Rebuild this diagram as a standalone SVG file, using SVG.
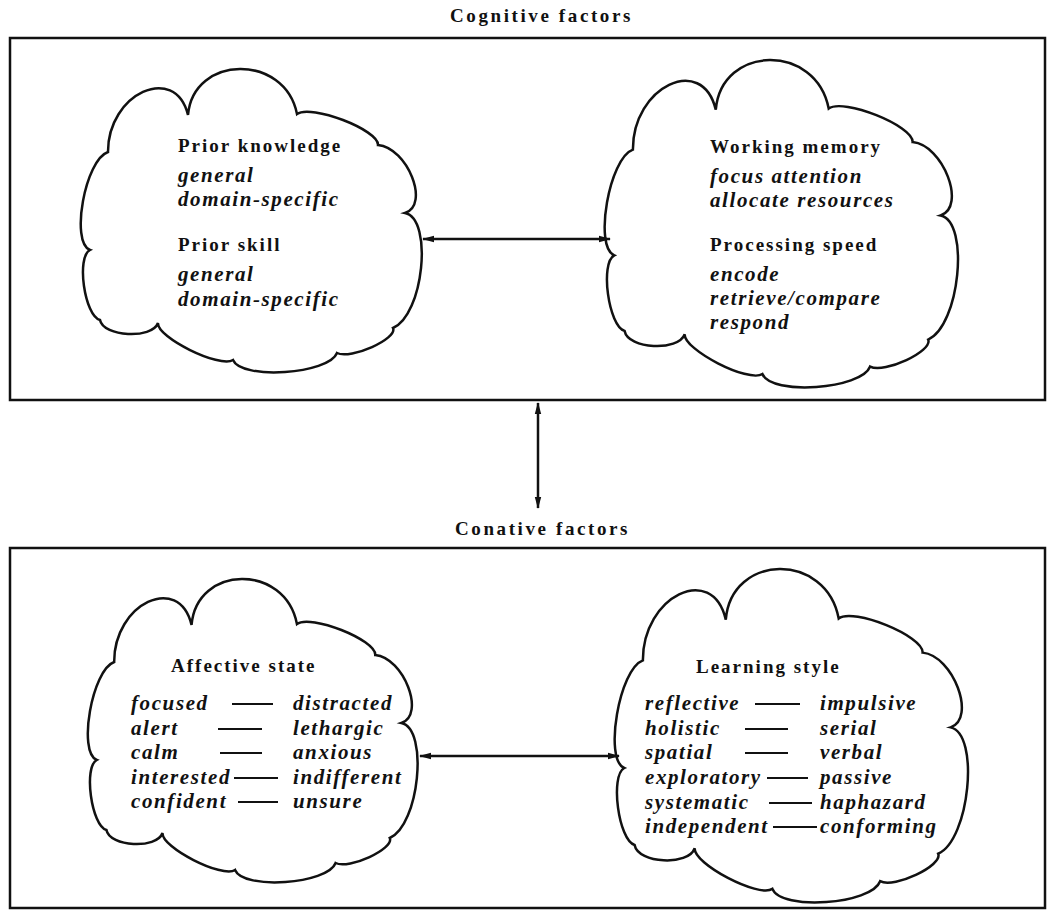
<svg xmlns="http://www.w3.org/2000/svg" width="1049" height="913" viewBox="0 0 1049 913">
<style>
  .box { fill: none; stroke: #111; stroke-width: 2.5; }
  .cloud { fill: #fff; stroke: #111; stroke-width: 2.5; stroke-linejoin: miter; }
  .title { font-family: "Liberation Serif", "Times New Roman", serif; font-weight: bold; font-size: 19px; letter-spacing: 2.6px; fill: #111; }
  .head { font-family: "Liberation Serif", "Times New Roman", serif; font-weight: bold; font-size: 19px; letter-spacing: 2px; fill: #111; }
  .item { font-family: "Liberation Serif", "Times New Roman", serif; font-weight: bold; font-style: italic; font-size: 21px; letter-spacing: 1.6px; fill: #111; }
  .dash { stroke: #111; stroke-width: 2; }
  .conn { stroke: #111; stroke-width: 2.5; fill: none; marker-start: url(#ah); marker-end: url(#ah); }
</style>
<defs>
  <marker id="ah" viewBox="0 0 12 8" refX="11" refY="4" markerWidth="12" markerHeight="8" markerUnits="userSpaceOnUse" orient="auto-start-reverse">
    <path d="M0,0.8 L12,4 L0,7.2 z" fill="#111"/>
  </marker>
  <path id="cloudShape" vector-effect="non-scaling-stroke" d="M188,115 C193.4,54.3 284.9,53.4 297,114 C310.8,103.8 378.9,129.9 378,145 C407.5,147.8 430.2,204.9 405,213 C433.4,218.9 423.3,315.5 393,328 C397.9,338.7 350.8,359.7 337,353 C328.7,374.2 241.3,380.1 233,360 C219.7,368.4 156.7,337.3 158,323 C152,339.4 103.3,336.9 100,320 C84.5,315.7 76.1,256.9 90,250 C70.1,242.2 85.2,159.8 108,152 C107.7,93.7 174.9,62.6 188,115 Z"/>
</defs>
<rect width="1049" height="913" fill="#fff"/>

<g id="cognitive">
  <text class="title" x="450" y="22">Cognitive factors</text>
  <rect class="box" x="10" y="38" width="1035" height="362"/>
</g>

<g id="conative">
  <text class="title" x="455" y="535">Conative factors</text>
  <rect class="box" x="10" y="548" width="1035" height="360"/>
</g>

<g id="prior">
  <use href="#cloudShape" class="cloud"/>
  <text class="head" x="178" y="152">Prior knowledge</text>
  <text class="item" x="178" y="182">general</text>
  <text class="item" x="178" y="206">domain-specific</text>
  <text class="head" x="178" y="251">Prior skill</text>
  <text class="item" x="178" y="281">general</text>
  <text class="item" x="178" y="306">domain-specific</text>
</g>

<g id="memory">
  <use href="#cloudShape" class="cloud" transform="translate(607,59) scale(1.036,1.079) translate(-83,-68)"/>
  <text class="head" x="710" y="153">Working memory</text>
  <text class="item" x="710" y="183">focus attention</text>
  <text class="item" x="710" y="207">allocate resources</text>
  <text class="head" x="710" y="251">Processing speed</text>
  <text class="item" x="710" y="281">encode</text>
  <text class="item" x="710" y="305">retrieve/compare</text>
  <text class="item" x="710" y="329">respond</text>
</g>

<g id="affective">
  <use href="#cloudShape" class="cloud" transform="translate(90,578) scale(0.967,1) translate(-83,-68)"/>
  <text class="head" x="171" y="672">Affective state</text>
  <text class="item" x="131" y="710">focused</text>
  <text class="item" x="131" y="735">alert</text>
  <text class="item" x="131" y="759">calm</text>
  <text class="item" x="131" y="784">interested</text>
  <text class="item" x="131" y="808">confident</text>
  <text class="item" x="293" y="710">distracted</text>
  <text class="item" x="293" y="735">lethargic</text>
  <text class="item" x="293" y="759">anxious</text>
  <text class="item" x="293" y="784">indifferent</text>
  <text class="item" x="293" y="808">unsure</text>
  <line class="dash" x1="232" y1="704" x2="273" y2="704"/>
  <line class="dash" x1="218" y1="729" x2="262" y2="729"/>
  <line class="dash" x1="220" y1="753" x2="262" y2="753"/>
  <line class="dash" x1="234" y1="778" x2="278" y2="778"/>
  <line class="dash" x1="238" y1="802" x2="278" y2="802"/>
</g>

<g id="learning">
  <use href="#cloudShape" class="cloud" transform="translate(617,568) scale(1.036,1.099) translate(-83,-68)"/>
  <text class="head" x="696" y="673">Learning style</text>
  <text class="item" x="645" y="710">reflective</text>
  <text class="item" x="645" y="735">holistic</text>
  <text class="item" x="645" y="759">spatial</text>
  <text class="item" x="645" y="784">exploratory</text>
  <text class="item" x="645" y="809">systematic</text>
  <text class="item" x="645" y="833">independent</text>
  <text class="item" x="820" y="710">impulsive</text>
  <text class="item" x="820" y="735">serial</text>
  <text class="item" x="820" y="759">verbal</text>
  <text class="item" x="820" y="784">passive</text>
  <text class="item" x="820" y="809">haphazard</text>
  <text class="item" x="820" y="833">conforming</text>
  <line class="dash" x1="755" y1="704" x2="800" y2="704"/>
  <line class="dash" x1="745" y1="729" x2="788" y2="729"/>
  <line class="dash" x1="745" y1="753" x2="788" y2="753"/>
  <line class="dash" x1="767" y1="778" x2="808" y2="778"/>
  <line class="dash" x1="769" y1="803" x2="812" y2="803"/>
  <line class="dash" x1="773" y1="827" x2="817" y2="827"/>
</g>

<g id="connectors">
  <line class="conn" x1="423" y1="239" x2="610" y2="239"/>
  <line class="conn" x1="538" y1="403" x2="538" y2="508"/>
  <line class="conn" x1="420" y1="756" x2="619" y2="756"/>
</g>
</svg>
